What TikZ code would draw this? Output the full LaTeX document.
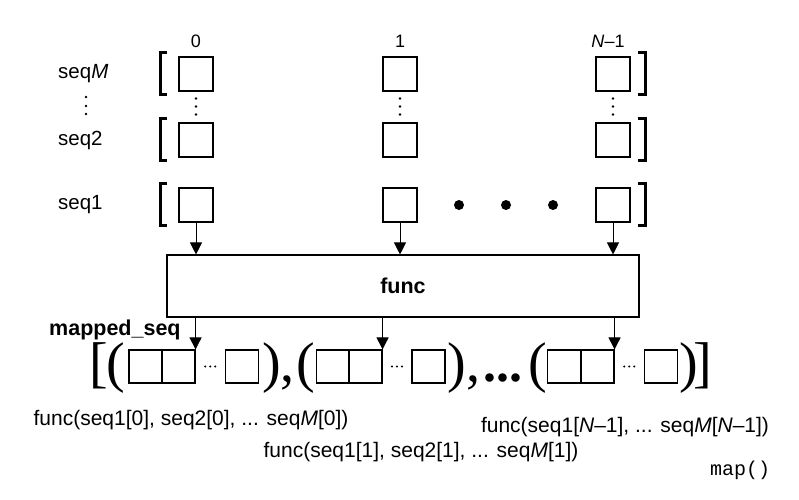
\documentclass[tikz,border=0pt]{standalone}
\usepackage{fontspec}
\setmainfont{Liberation Sans}
\setmonofont{Liberation Mono}
\newfontfamily\brfont{Liberation Serif}
\usetikzlibrary{arrows.meta,calc}

\begin{document}
\begin{tikzpicture}[x=1pt,y=-1pt,
		cell/.style={draw, line width=1.1pt, minimum width=34pt, minimum height=34pt, inner sep=0pt},
		brk/.style={line width=2.4pt},
		arr/.style={line width=1pt, -{Triangle[width=12pt,length=12pt]}},
		big/.style={font=\brfont\fontsize{56}{56}\selectfont, inner sep=0pt, anchor=base},
		txt/.style={font=\fontsize{21}{24}\selectfont, inner sep=0pt, anchor=base},
		lbl/.style={font=\fontsize{20.5}{22}\selectfont, inner sep=0pt, anchor=west}]
		\useasboundingbox (0,0) rectangle (799,499);
		% column labels
		\node[font=\fontsize{18}{18}\selectfont, anchor=base] (ix0) at (196,47) {0};
		\node[font=\fontsize{18}{18}\selectfont, anchor=base] (ix1) at (400,47) {1};
		\node[font=\fontsize{18}{18}\selectfont, anchor=base] (ixn) at (608,47) {\textit{N}--1};
		% input sequences
		\node[lbl] (lm) at (58,74) {seq\textit{M}};
		\node[lbl] (l2) at (58,140) {seq2};
		\node[lbl] (l1) at (58,205) {seq1};
		\node[cell] (m0) at (196,74) {};
		\node[cell] (m1) at (400,74) {};
		\node[cell] (mn) at (613,74) {};
		\node[cell] (s20) at (196,140) {};
		\node[cell] (s21) at (400,140) {};
		\node[cell] (s2n) at (613,140) {};
		\node[cell] (s10) at (196,205) {};
		\node[cell] (s11) at (400,205) {};
		\node[cell] (s1n) at (613,205) {};
		\foreach \r in {m,s2,s1} {
			\draw[brk] ($(\r0.north west)+(-11,-4)$) -- ++(-7,0) -- ++(0,42) -- ++(7,0);
			\draw[brk] ($(\r n.north east)+(7,-4)$) -- ++(8,0) -- ++(0,42) -- ++(-8,0);
		}
		\foreach \c in {0,1,n}
			\foreach \d in {7,15,23}
				\fill ($(m\c.south)+(0,\d)$) circle (1.4pt);
		\foreach \d in {97,106,114}
			\fill (86,\d) circle (1.4pt);
		\fill (459,205) circle (5pt);
		\fill (506,205) circle (5pt);
		\fill (553,205) circle (5pt);
		% func
		\node[draw, line width=1.1pt, minimum width=472pt, minimum height=62pt,
			font=\bfseries\fontsize{21.5}{24}\selectfont] (func) at (403,286) {func};
		\foreach \c in {0,1,n}
			\draw[arr] (s1\c) -- (s1\c |- func.north);
		% result
		\node[font=\bfseries\fontsize{21.5}{24}\selectfont, inner sep=0pt, anchor=base west] (ms) at (49,335) {mapped\_seq};
		\node[cell, minimum width=33pt, minimum height=33pt] (r0a) at (145.5,366.5) {};
		\node[cell, minimum width=33pt, minimum height=33pt] (r0b) at (178.5,366.5) {};
		\node[cell, minimum width=33pt, minimum height=33pt] (r0c) at (242,366.5) {};
		\node[cell, minimum width=33pt, minimum height=33pt] (r1a) at (333,366.5) {};
		\node[cell, minimum width=33pt, minimum height=33pt] (r1b) at (365.5,366.5) {};
		\node[cell, minimum width=33pt, minimum height=33pt] (r1c) at (428.5,366.5) {};
		\node[cell, minimum width=33pt, minimum height=33pt] (rna) at (564,366.5) {};
		\node[cell, minimum width=33pt, minimum height=33pt] (rnb) at (597.5,366.5) {};
		\node[cell, minimum width=33pt, minimum height=33pt] (rnc) at (661,366.5) {};
		\foreach \c in {0,1,n} {
			\coordinate (d\c) at ($(r\c b.east)!.5!(r\c c.west)$);
			\foreach \k in {-5,0,5}
				\fill ($(d\c)+(\k,0)$) circle (1.1pt);
			\draw[arr] (func.south -| r\c b.north east) -- (r\c b.north east);
		}
		\node[big] (lb) at (99,381) {[};
		\node[big] (o0) at (116,381) {(};
		\node[big] (c0) at (272,381) {)};
		\node[big] (k0) at (287,381) {,};
		\node[big] (o1) at (306,381) {(};
		\node[big] (c1) at (456.5,381) {)};
		\node[big] (k1) at (473,381) {,};
		\node[big, font=\brfont\bfseries\fontsize{52}{52}\selectfont] (dd) at (503,381) {...};
		\node[big] (on) at (538,381) {(};
		\node[big] (cn) at (689,381) {)};
		\node[big] (rb) at (702.5,381) {]};
		% calls
		\node[txt] (f0) at (191,425) {func(seq1[0], seq2[0], ... seq\textit{M}[0])};
		\node[txt] (fn) at (625,432) {func(seq1[\textit{N}--1], ... seq\textit{M}[\textit{N}--1])};
		\node[txt] (f1) at (421,457) {func(seq1[1], seq2[1], ... seq\textit{M}[1])};
		\node[font=\ttfamily\fontsize{20}{20}\selectfont, inner sep=0pt, anchor=base] (mp) at (740,475) {map()};
	\end{tikzpicture}
\end{document}
